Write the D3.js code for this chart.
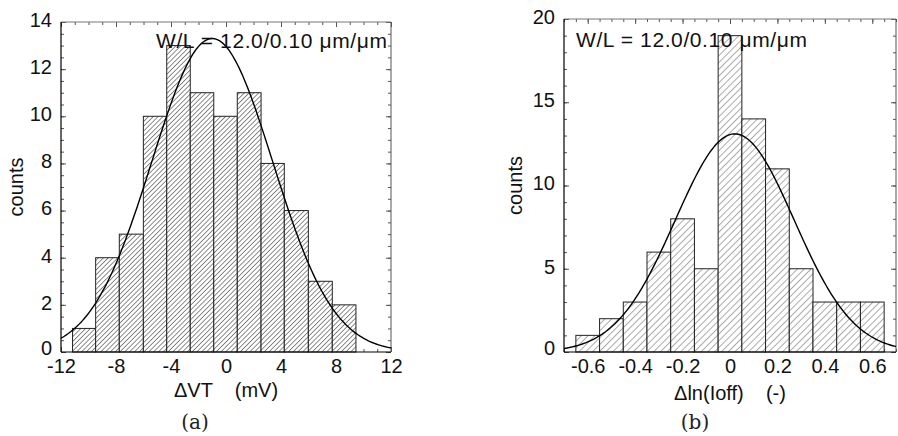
<!DOCTYPE html>
<html lang="en">
<head>
<meta charset="UTF-8">
<title>histograms</title>
<script src="https://cdn.jsdelivr.net/npm/d3@7"></script>
<style>
  body { margin: 0; background: #fff; }
  text { font-family: "Liberation Sans", Arial, sans-serif; }
</style>
</head>
<body>
<script>
// (a) delta VT histogram
var edgesA = [-11.16, -9.48, -7.76, -6.01, -4.31, -2.60, -0.89, 0.82, 2.55, 4.24, 5.99, 7.73, 9.45]
var countsA = [1, 4, 5, 10, 13, 11, 10, 11, 8, 6, 3, 2]
var xTicksA = [-12, -8, -4, 0, 4, 8, 12]
var yTicksA = [0, 2, 4, 6, 8, 10, 12, 14]
var fitA = { mean: -1.0, sigma: 4.4, peak: 13.3 }

// (b) delta ln(Ioff) histogram
var edgesB = [-0.65, -0.55, -0.45, -0.35, -0.25, -0.15, -0.05, 0.05, 0.15, 0.25, 0.35, 0.45, 0.55, 0.65]
var countsB = [1, 2, 3, 6, 8, 5, 19, 14, 11, 5, 3, 3, 3]
var xTicksB = [-0.6, -0.4, -0.2, 0, 0.2, 0.4, 0.6]
var yTicksB = [0, 5, 10, 15, 20]
var fitB = { mean: 0.02, sigma: 0.25, peak: 13.1 }

var w = 898, h = 436
var svg = d3.select('body').append('svg').attr('width', w).attr('height', h)
var defs = svg.append('defs')

function hatch(id, gap, color, sw) {
  var p = defs.append('pattern').attr('id', id)
    .attr('patternUnits', 'userSpaceOnUse')
    .attr('width', gap).attr('height', gap)
    .attr('patternTransform', 'rotate(45)')
  p.append('rect').attr('width', gap).attr('height', gap).attr('fill', '#fff')
  p.append('line').attr('x1', 0).attr('y1', 0).attr('x2', 0).attr('y2', gap)
    .attr('stroke', color).attr('stroke-width', sw)
}
hatch('hA', 3.4, '#000', 0.9)
hatch('hB', 4.8, '#444', 0.9)

function panel(o) {
  var x = d3.scaleLinear().domain(o.xDom).range(o.xr)
  var y = d3.scaleLinear().domain(o.yDom).range(o.yr)
  var g = svg.append('g')

  // inward ticks on all four sides
  function ticks(axisFn, vals, size, tx, ty, scale) {
    g.append('g').attr('transform', 'translate(' + tx + ',' + ty + ')')
      .call(axisFn(scale).tickValues(vals).tickSize(size).tickFormat(''))
      .call(function (s) { s.select('.domain').remove(); s.selectAll('line').attr('stroke', '#555') })
  }
  ticks(d3.axisBottom, o.xMinor, -3, 0, o.yr[0], x)
  ticks(d3.axisTop, o.xMinor, -3, 0, o.yr[1], x)
  ticks(d3.axisBottom, o.xTicks, -5, 0, o.yr[0], x)
  ticks(d3.axisTop, o.xTicks, -5, 0, o.yr[1], x)
  ticks(d3.axisLeft, o.yMinor, -3, o.xr[0], 0, y)
  ticks(d3.axisRight, o.yMinor, -3, o.xr[1], 0, y)
  ticks(d3.axisLeft, o.yTicks, -5, o.xr[0], 0, y)
  ticks(d3.axisRight, o.yTicks, -5, o.xr[1], 0, y)

  // bars
  g.selectAll('rect.bar').data(o.counts).enter().append('rect').attr('class', 'bar')
    .attr('x', function (d, i) { return x(o.edges[i]) })
    .attr('width', function (d, i) { return x(o.edges[i + 1]) - x(o.edges[i]) })
    .attr('y', function (d) { return y(d) })
    .attr('height', function (d) { return y(0) - y(d) })
    .attr('fill', 'url(#' + o.hatch + ')')
    .attr('stroke', '#222').attr('stroke-width', 1)

  // frame
  g.append('line').attr('x1', o.xr[0]).attr('x2', o.xr[1]).attr('y1', o.yr[1]).attr('y2', o.yr[1]).attr('stroke', '#777')
  g.append('line').attr('x1', o.xr[1]).attr('x2', o.xr[1]).attr('y1', o.yr[0]).attr('y2', o.yr[1]).attr('stroke', '#555')
  g.append('line').attr('x1', o.xr[0]).attr('x2', o.xr[0]).attr('y1', o.yr[0]).attr('y2', o.yr[1]).attr('stroke', '#000').attr('stroke-width', 1.2)
  g.append('line').attr('x1', o.xr[0]).attr('x2', o.xr[1]).attr('y1', o.yr[0]).attr('y2', o.yr[0]).attr('stroke', '#000').attr('stroke-width', 1.2)

  // gaussian fit
  var f = o.fit
  var pts = d3.range(o.xDom[0], o.xDom[1] + 1e-9, (o.xDom[1] - o.xDom[0]) / 200)
  var line = d3.line()
    .x(function (d) { return x(d) })
    .y(function (d) { return y(f.peak * Math.exp(-Math.pow(d - f.mean, 2) / (2 * f.sigma * f.sigma))) })
  g.append('path').datum(pts).attr('d', line).attr('fill', 'none').attr('stroke', '#000').attr('stroke-width', 1.4)

  // tick labels
  g.append('g').attr('transform', 'translate(0,' + o.yr[0] + ')')
    .call(d3.axisBottom(x).tickValues(o.xTicks).tickSize(0).tickPadding(7).tickFormat(function (d) { return String(d) }))
    .call(function (s) { s.select('.domain').remove(); s.selectAll('text').attr('font-size', 20).attr('font-family', null).attr('fill', '#111') })
  g.append('g').attr('transform', 'translate(' + o.xr[0] + ',0)')
    .call(d3.axisLeft(y).tickValues(o.yTicks).tickSize(0).tickPadding(9).tickFormat(function (d) { return String(d) }))
    .call(function (s) { s.select('.domain').remove(); s.selectAll('text').attr('font-size', 20).attr('font-family', null).attr('fill', '#111').attr('dy', '0.22em') })
    .call(function (s) { s.selectAll('text').filter(function (d) { return d === 0 }).attr('dy', '0.1em') })

  // annotation
  g.append('text').attr('x', o.noteX).attr('y', o.noteY).attr('font-size', 21)
    .attr('textLength', 231).attr('lengthAdjust', 'spacing').attr('fill', '#111')
    .text('W/L = 12.0/0.10 \u03bcm/\u03bcm')

  // axis titles
  g.append('text').attr('transform', 'translate(' + o.yLabX + ',' + (o.yr[0] + o.yr[1]) / 2 + ') rotate(-90)')
    .attr('text-anchor', 'middle').attr('font-size', 20).attr('fill', '#111').text('counts')
  g.append('text').attr('x', o.xLabX).attr('y', o.xLabY).attr('text-anchor', 'middle')
    .attr('font-size', 20).attr('fill', '#111').style('white-space', 'pre').text(o.xLabel)
  g.append('text').attr('x', o.capX).attr('y', 429).attr('text-anchor', 'middle')
    .attr('font-size', 20).style('font-family', '"DejaVu Serif", serif').attr('fill', '#222').text(o.caption)
}

panel({
  xDom: [-12, 12], xr: [61, 391], yDom: [0, 14], yr: [352, 22],
  edges: edgesA, counts: countsA, fit: fitA, hatch: 'hA',
  xTicks: xTicksA, yTicks: yTicksA,
  xMinor: d3.range(-12, 12.001, 1), yMinor: d3.range(0, 14.001, 0.5),
  noteX: 156, noteY: 48, yLabX: 23, xLabX: 226, xLabY: 397,
  xLabel: '\u0394VT    (mV)', capX: 195, caption: '(a)'
})
panel({
  xDom: [-0.7, 0.7], xr: [564, 896], yDom: [0, 20], yr: [352, 19],
  edges: edgesB, counts: countsB, fit: fitB, hatch: 'hB',
  xTicks: xTicksB, yTicks: yTicksB,
  xMinor: d3.range(-0.7, 0.7001, 0.05), yMinor: d3.range(0, 20.001, 1),
  noteX: 576, noteY: 47, yLabX: 522, xLabX: 730, xLabY: 400,
  xLabel: '\u0394ln(Ioff)    (-)', capX: 695, caption: '(b)'
})
</script>
</body>
</html>
